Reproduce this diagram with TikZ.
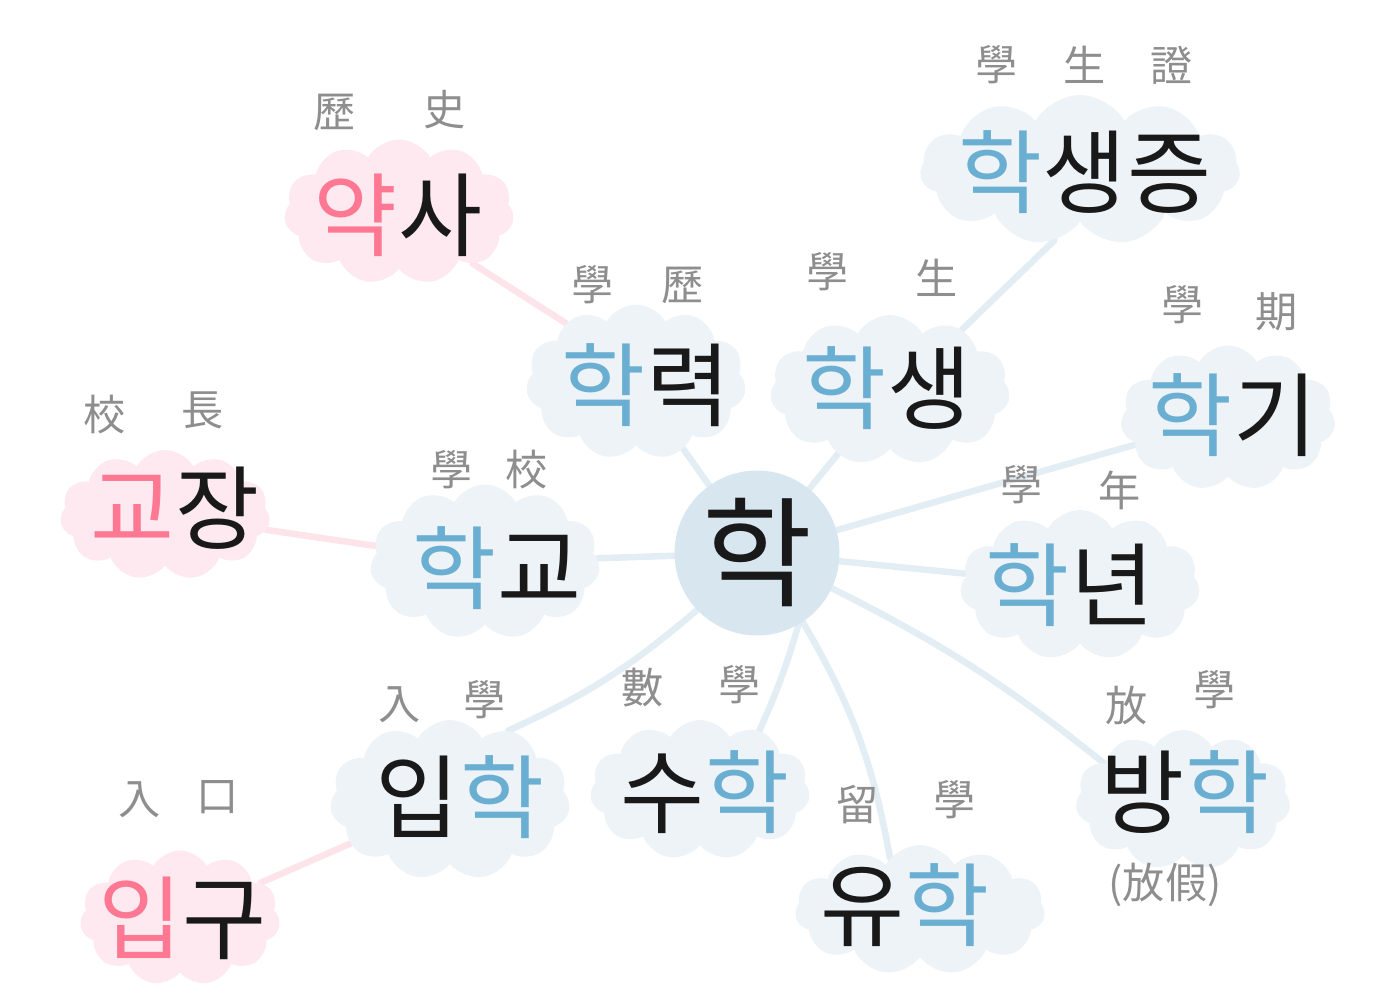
\documentclass[tikz,border=0pt]{standalone}
\usepackage{fontspec}
\setmainfont{Noto Sans CJK KR}
\usetikzlibrary{shapes.symbols,backgrounds}

\definecolor{hakblue}{HTML}{6AAFD2}
\definecolor{hakpink}{HTML}{FF7893}
\definecolor{cloudblue}{HTML}{EDF3F7}
\definecolor{cloudpink}{HTML}{FDE9EF}
\definecolor{hubblue}{HTML}{D8E6F0}
\definecolor{linkblue}{HTML}{E3EDF4}
\definecolor{linkpink}{HTML}{FCE4EA}
\definecolor{hanjagray}{HTML}{8E8E8E}

\newcommand\hak{\textcolor{hakblue}{학}}
\newcommand\pk[1]{\textcolor{hakpink}{#1}}

\begin{document}
\begin{tikzpicture}[
    x=0.02cm,
    y=-0.02cm,
    bubble/.style={
      cloud,
      cloud puffs=11,
      cloud puff arc=120,
      cloud ignores aspect,
      fill=cloudblue,
      inner sep=0pt
    },
    pinkbubble/.style={
      bubble,
      fill=cloudpink
    },
    hub/.style={
      circle,
      fill=hubblue,
      minimum size=3.3cm,
      inner sep=0pt,
      text=black!90,
      font=\fontsize{68}{70}\selectfont
    },
    word/.style={
      inner sep=0pt,
      text=black!90,
      font=\fontsize{52}{54}\selectfont
    },
    hanja/.style={
      text=hanjagray,
      inner sep=0pt,
      font=\fontsize{24}{26}\selectfont
    },
    link/.style={
      draw=linkblue,
      line width=0.13cm,
      line cap=round
    },
    pinklink/.style={
      link,
      draw=linkpink
    }
  ]
    \useasboundingbox (0,0) rectangle (1387,1005);

    % clouds
    \foreach \n/\x/\y/\w/\h in {hakryeok/636/382/4.4/3.1,haksaeng/890/390/4.8/3.0,
        haksaengjeung/1080/170/6.4/3.0,hakgi/1228/418/4.3/2.9,haknyeon/1080/585/4.8/3.0,
        banghak/1183/800/4.3/2.8,yuhak/920/910/5.0/2.6,suhak/700/790/4.4/2.8,
        iphak/450/800/4.8/3.2,hakgyo/485/562/4.6/3.1}
      \node[bubble,minimum width=\w cm,minimum height=\h cm] (\n) at (\x,\y) {};

    \foreach \n/\x/\y/\w/\h in {yeoksa/399/212/4.6/2.9,gyojang/165/515/4.2/2.6,ipgu/180/918/4.0/2.7}
      \node[pinkbubble,minimum width=\w cm,minimum height=\h cm] (\n) at (\x,\y) {};

    \node[hub] (hak) at (757,553) {학};

    % words
    \node[word] (hakryeok-t) at (646,385) {\hak 력};
    \node[word] (haksaeng-t) at (887,388) {\hak 생};
    \node[word] (haksaengjeung-t) at (1085,172) {\hak 생증};
    \node[word] (hakgi-t) at (1233,415) {\hak 기};
    \node[word] (haknyeon-t) at (1070,585) {\hak 년};
    \node[word] (banghak-t) at (1185,792) {방\hak};
    \node[word] (yuhak-t) at (905,905) {유\hak};
    \node[word] (suhak-t) at (705,792) {수\hak};
    \node[word] (iphak-t) at (460,797) {입\hak};
    \node[word] (hakgyo-t) at (497,568) {\hak 교};
    \node[word] (yeoksa-t) at (398,215) {\pk{약}사};
    \node[word] (gyojang-t) at (175,508) {\pk{교}장};
    \node[word] (ipgu-t) at (183,918) {\pk{입}구};

    % hanja
    \foreach \x/\y/\c [count=\i] in {335/112/歷,445/110/史,105/415/校,203/410/長,
        140/800/入,218/797/口,593/285/學,683/285/歷,828/272/學,937/278/生,
        997/65/學,1085/65/生,1172/65/證,1183/305/學,1277/312/期,1022/485/學,
        1120/490/年,1127/705/放,1215/690/學,858/805/留,955/800/學,643/688/數,
        740/685/學,400/705/入,485/700/學,452/470/學,527/470/校}
      \node[hanja] (hj\i) at (\x,\y) {\c};
    \node[hanja] (fangjia) at (1165,885) {(放假)};

    % links
    \begin{scope}[on background layer]
      \foreach \n in {hakryeok,haksaeng,hakgi,haknyeon,hakgyo}
        \draw[link] (hak) -- (\n);
      \draw[link] (hak) to[bend left=8] (iphak.50);
      \draw[link] (hak.-60) to[bend left=4] (suhak.45);
      \draw[link] (hak) to[bend left=10] (yuhak.120);
      \draw[link] (hak) to[bend left=6] (banghak.155);
      \draw[link] (haksaeng.40) -- (haksaengjeung.-110);
      \draw[pinklink] (yeoksa.-35) -- (hakryeok.140);
      \draw[pinklink] (gyojang) -- (hakgyo);
      \draw[pinklink] (ipgu) -- (iphak);
    \end{scope}
  \end{tikzpicture}
\end{document}
